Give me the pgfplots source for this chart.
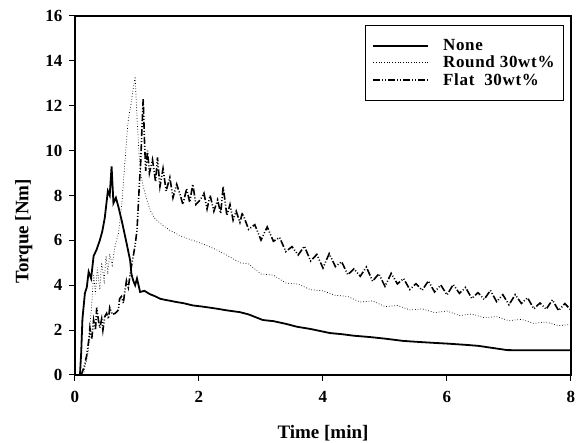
\documentclass[border=0pt]{standalone}
\usepackage{fontspec}
\setmainfont{Liberation Serif}
\newfontfamily\legfont[LetterSpace=4]{Liberation Serif}
\usepackage{pgfplots}
\pgfplotsset{compat=1.18}
\begin{document}
\begin{tikzpicture}[x=1pt,y=1pt]
\useasboundingbox (-75,-68) rectangle (504,375);
\begin{axis}[
  at={(0,0)}, anchor=south west,
  scale only axis, width=496pt, height=359pt,
  xmin=0, xmax=8, ymin=0, ymax=16,
  xtick={0,2,4,6,8}, ytick={0,2,4,6,8,10,12,14,16},
  tick align=outside, tick pos=left,
  major tick length=6pt,
  every tick/.style={black, line width=1pt},
  axis line style={line width=1.2pt},
  /pgf/number format/assume math mode=true,
  ticklabel style={font=\fontsize{17}{17}\selectfont\bfseries},
  xticklabel style={yshift=-7pt},
  yticklabel style={xshift=-3pt},
  xlabel={Time [min]}, ylabel={Torque [Nm]},
  xlabel style={font=\fontsize{19}{19}\selectfont\bfseries, at={(axis description cs:0.5,-0.1616)}, anchor=center},
  ylabel style={font=\fontsize{19}{19}\selectfont\bfseries, at={(axis description cs:-0.103,0.40)}, anchor=center},
  legend style={at={(rel axis cs:0.986,0.975)}, anchor=north east, draw=black, line width=1pt,
    font=\fontsize{17}{19}\selectfont\bfseries\legfont, cells={anchor=west}, inner xsep=7pt, inner ysep=12pt, row sep=0pt,
    /tikz/every odd column/.append style={column sep=12pt}},
  legend image code/.code={\draw[#1] (0pt,0pt) -- (55pt,0pt);},
]
\addplot[black, line width=1.8pt] coordinates {
(0.08,0.0) (0.1,1.0) (0.12,2.5) (0.16,3.65) (0.19,3.9) (0.22,4.6) (0.26,4.3) (0.3,5.3) (0.35,5.6) (0.4,6.0)
(0.44,6.4) (0.48,7.0) (0.53,8.2) (0.56,8.0) (0.59,9.3) (0.62,7.66) (0.66,7.9) (0.7,7.5) (0.76,6.8) (0.83,5.9)
(0.89,5.1) (0.91,4.5) (0.94,4.2) (0.97,4.0) (1.0,4.3) (1.05,3.7) (1.12,3.75) (1.21,3.6) (1.3,3.5) (1.37,3.4)
(1.45,3.35) (1.55,3.3) (1.64,3.25) (1.75,3.2) (1.9,3.1) (2.05,3.05) (2.18,3.0) (2.3,2.95) (2.45,2.88) (2.66,2.8)
(2.8,2.7) (3.03,2.45) (3.2,2.4) (3.4,2.28) (3.58,2.15) (3.8,2.05) (4.11,1.87) (4.3,1.82) (4.5,1.75) (4.76,1.69)
(5.0,1.62) (5.29,1.52) (5.5,1.48) (5.8,1.43) (6.0,1.4) (6.32,1.34) (6.5,1.3) (6.7,1.22) (6.97,1.11) (7.2,1.1) (8.0,1.1)
};
\addlegendentry{None}
\addplot[black, line width=0.7pt, dotted] coordinates {
(0.14,0.0) (0.16,0.36) (0.19,0.7) (0.21,1.0) (0.23,1.6) (0.24,2.1) (0.27,3.2) (0.3,4.5) (0.33,3.6) (0.36,4.8)
(0.4,3.8) (0.43,5.0) (0.47,4.2) (0.5,5.3) (0.53,4.6) (0.56,5.4) (0.6,4.9) (0.65,5.8) (0.7,6.3) (0.73,7.0)
(0.76,7.8) (0.8,9.3) (0.83,10.4) (0.86,11.4) (0.9,12.0) (0.93,12.6) (0.97,13.3) (1.0,11.5) (1.03,10.0) (1.06,9.0)
(1.1,8.4) (1.16,7.8) (1.22,7.3) (1.28,7.0) (1.32,6.9) (1.4,6.7) (1.53,6.45) (1.7,6.2) (1.9,6.0) (2.1,5.8)
(2.29,5.57) (2.5,5.26) (2.66,5.0) (2.8,4.95) (3.0,4.5) (3.2,4.45) (3.4,4.1) (3.6,4.05) (3.8,3.8) (4.0,3.75)
(4.2,3.55) (4.4,3.5) (4.6,3.25) (4.8,3.3) (5.0,3.05) (5.2,3.1) (5.4,2.9) (5.6,2.95) (5.8,2.78) (6.0,2.85)
(6.2,2.65) (6.4,2.72) (6.6,2.55) (6.8,2.6) (7.0,2.42) (7.2,2.48) (7.4,2.3) (7.6,2.36) (7.8,2.2) (8.0,2.25)
};
\addlegendentry{Round 30wt\%}
\addplot[black, line width=1.6pt, dash pattern=on 7pt off 2pt on 1pt off 2pt on 1pt off 2pt] coordinates {
(0.1,0.0) (0.14,0.3) (0.16,0.5) (0.19,0.9) (0.22,1.5) (0.24,2.1) (0.27,1.6) (0.3,2.45) (0.33,2.0) (0.35,3.0)
(0.38,2.4) (0.4,2.1) (0.43,2.5) (0.45,2.0) (0.48,2.6) (0.51,2.75) (0.54,2.5) (0.56,3.0) (0.6,2.7) (0.65,2.75)
(0.7,2.9) (0.72,3.4) (0.75,3.5) (0.78,3.2) (0.8,3.65) (0.83,4.2) (0.86,3.9) (0.89,4.5) (0.92,5.0) (0.94,5.3)
(0.97,5.8) (1.0,6.45) (1.02,7.5) (1.04,8.6) (1.06,9.5) (1.08,11.0) (1.1,12.3) (1.12,10.5) (1.14,9.1) (1.17,10.0)
(1.2,9.0) (1.25,9.6) (1.3,8.6) (1.33,9.7) (1.37,8.4) (1.42,9.2) (1.47,8.2) (1.53,8.8) (1.58,7.9) (1.64,8.5)
(1.7,8.0) (1.74,7.6) (1.8,8.3) (1.85,7.7) (1.9,8.5) (1.95,7.6) (2.02,7.8) (2.08,8.1) (2.13,7.4) (2.18,8.0)
(2.24,7.3) (2.3,7.8) (2.35,7.2) (2.39,8.4) (2.45,7.1) (2.5,7.6) (2.55,6.9) (2.6,7.3) (2.66,6.8)
(2.7,7.23) (2.8,6.49) (2.9,6.70) (3.0,6.01) (3.1,6.6) (3.2,5.96) (3.3,6.13) (3.4,5.5) (3.5,5.72) (3.6,5.35)
(3.7,5.74) (3.8,5.08) (3.9,5.37) (4.0,4.77) (4.1,5.41) (4.2,4.83) (4.3,5.05) (4.4,4.47) (4.5,4.73) (4.6,4.4)
(4.7,4.81) (4.8,4.18) (4.9,4.51) (5.0,3.95) (5.1,4.53) (5.2,4.06) (5.3,4.3) (5.4,3.81) (5.5,4.07) (5.6,3.78)
(5.7,4.19) (5.8,3.7) (5.9,4.01) (6.0,3.57) (6.1,4.03) (6.2,3.64) (6.3,3.9) (6.4,3.41) (6.5,3.67) (6.6,3.37)
(6.7,3.77) (6.8,3.27) (6.9,3.58) (7.0,3.13) (7.1,3.58) (7.2,3.19) (7.3,3.44) (7.4,2.95) (7.5,3.21) (7.6,2.93)
(7.7,3.35) (7.8,2.87) (7.9,3.18) (8.0,2.9)
};
\addlegendentry{Flat\ \ 30wt\%}
\end{axis}
\end{tikzpicture}
\end{document}
